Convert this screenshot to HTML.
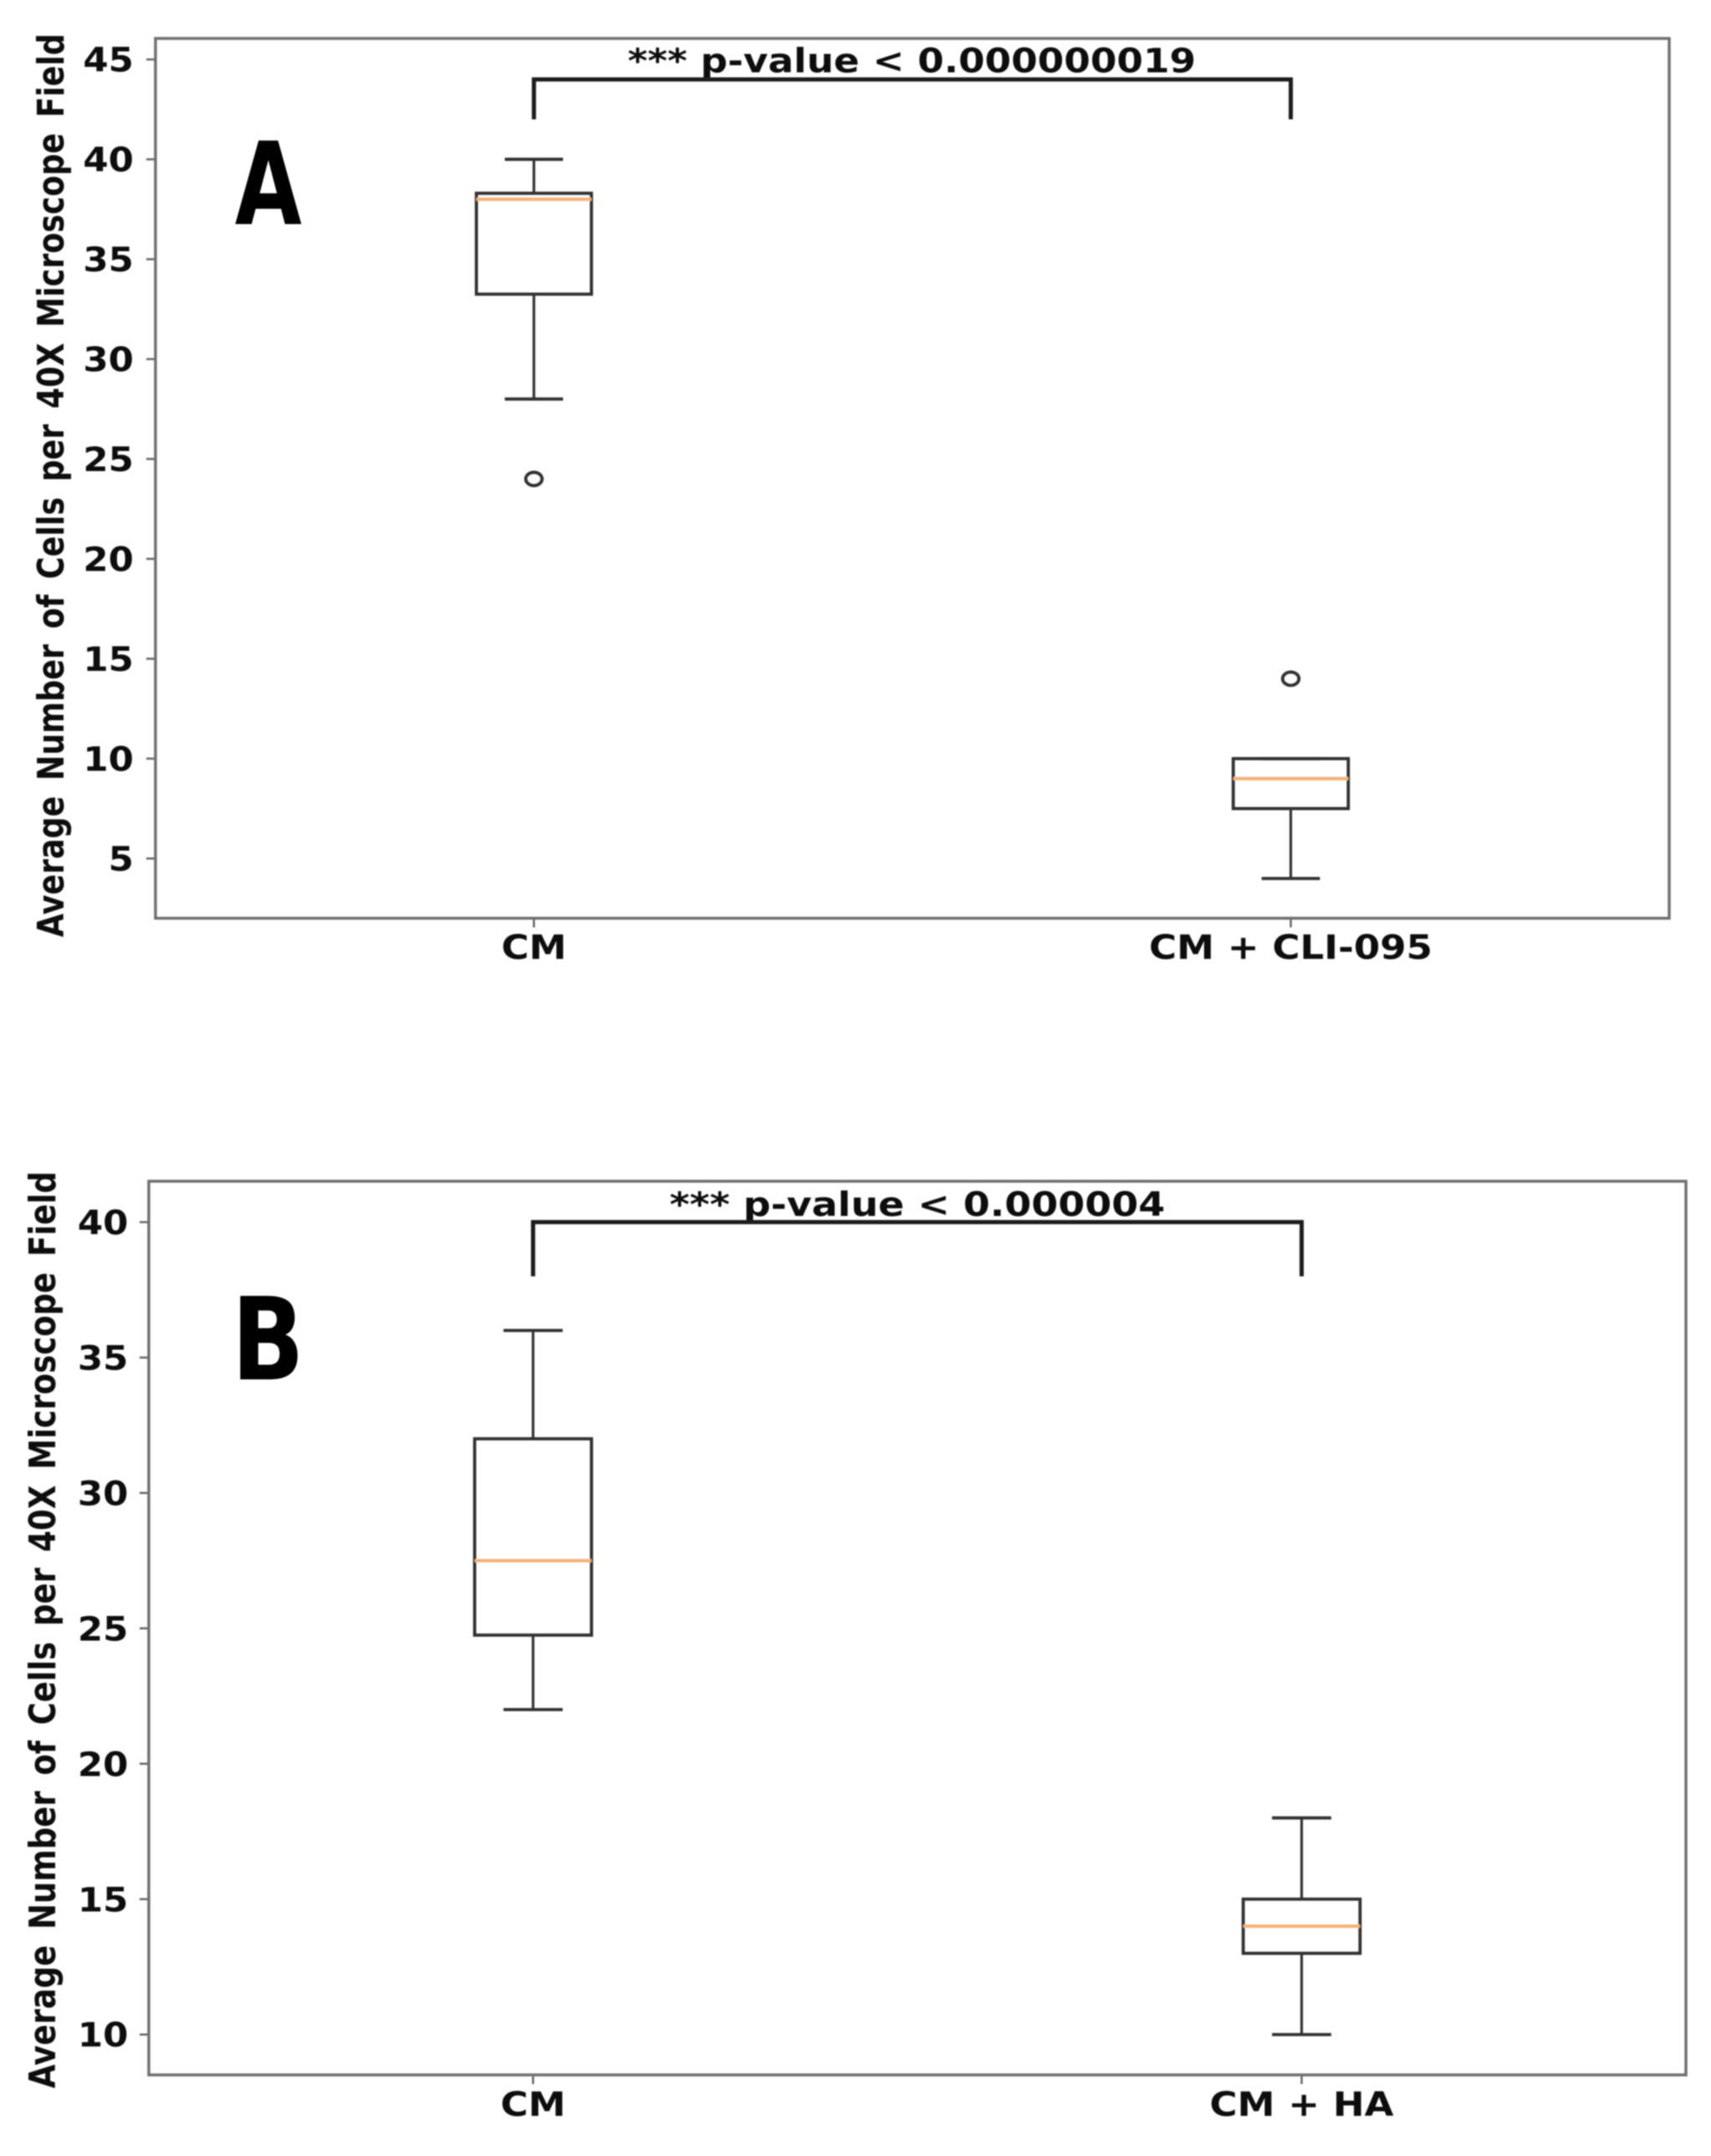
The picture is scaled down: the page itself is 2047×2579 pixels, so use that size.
<!DOCTYPE html>
<html lang="en">
<head>
<meta charset="utf-8">
<title>Cell counts per microscope field: box plots</title>
<style>
  html, body { margin: 0; padding: 0; background: #fff; }
  svg { display: block; }
  text { font-family: "DejaVu Sans", "Liberation Sans", sans-serif; font-weight: bold; fill: #111; }
</style>
</head>
<body>
<svg id="figure" xmlns="http://www.w3.org/2000/svg" width="2047" height="2579" viewBox="0 0 2047 2579">
  <defs>
    <filter id="soft" x="-2%" y="-2%" width="104%" height="104%"><feGaussianBlur stdDeviation="0.9"/></filter>
  </defs>
  <rect x="0" y="0" width="2047" height="2579" fill="#ffffff"/>
  <g id="panelA" filter="url(#soft)">
    <text x="281" y="268" font-size="137" textLength="80" lengthAdjust="spacingAndGlyphs" style="fill:#000">A</text>
    <text transform="translate(76,1121) rotate(-90)" font-size="44" word-spacing="7" textLength="1081" lengthAdjust="spacingAndGlyphs">Average Number of Cells per 40X Microscope Field</text>
    <text transform="translate(751,86.5) scale(1.135,1)" font-size="40">*** p-value &lt; 0.000000019</text>
  </g>
  <g id="panelB" filter="url(#soft)">
    <text x="277" y="1650" font-size="137" textLength="87" lengthAdjust="spacingAndGlyphs" style="fill:#000">B</text>
    <text transform="translate(66,2498) rotate(-90)" font-size="44" word-spacing="7" textLength="1097" lengthAdjust="spacingAndGlyphs">Average Number of Cells per 40X Microscope Field</text>
    <text transform="translate(801,1454.7) scale(1.15,1)" font-size="40">*** p-value &lt; 0.000004</text>
  </g>
</svg>
<script>
// Panel A values
const categoriesA = ["CM", "CM + CLI-095"];
const whiskerLowA = [28, 4];
const quartile1A = [33.25, 7.5];
const medianA = [38, 9];
const quartile3A = [38.3, 10];
const whiskerHighA = [40, 10];
const outliersA = [[24], [14]];
const tickValuesA = [5, 10, 15, 20, 25, 30, 35, 40, 45];
const tickLabelsA = ["5", "10", "15", "20", "25", "30", "35", "40", "45"];
const bracketA = [42, 44];

// Panel B values
const categoriesB = ["CM", "CM + HA"];
const whiskerLowB = [22, 10];
const quartile1B = [24.75, 13];
const medianB = [27.5, 14];
const quartile3B = [32, 15];
const whiskerHighB = [36, 18];
const outliersB = [[], []];
const tickValuesB = [10, 15, 20, 25, 30, 35, 40];
const tickLabelsB = ["10", "15", "20", "25", "30", "35", "40"];
const bracketB = [38, 40];

const SVG_NS = "http://www.w3.org/2000/svg";
const BOX_WIDTH = 0.152;
const CAP_WIDTH = 0.077;

function makeXScale(frame) {
  return function (position) {
    return frame.left + (position - 0.5) / 2 * (frame.right - frame.left);
  };
}
function makeYScale(frame, domainMin, domainMax) {
  return function (value) {
    return frame.bottom - (value - domainMin) / (domainMax - domainMin) * (frame.bottom - frame.top);
  };
}
function shape(parent, tag, attrs) {
  const el = document.createElementNS(SVG_NS, tag);
  Object.keys(attrs).forEach(function (key) { el.setAttribute(key, attrs[key]); });
  parent.appendChild(el);
  return el;
}
function line(parent, x1, y1, x2, y2, stroke, width) {
  return shape(parent, "line", { x1: x1, y1: y1, x2: x2, y2: y2, stroke: stroke, "stroke-width": width });
}

function drawPanel(root, prefix, frame, domain, d) {
  const x = makeXScale(frame);
  const y = makeYScale(frame, domain[0], domain[1]);
  const boxStroke = "#333333";

  // y ticks and labels
  d.tickValues.forEach(function (value, i) {
    const tick = line(root, frame.left - 11, y(value), frame.left, y(value), "#666666", 2.5);
    
    
    const label = shape(root, "text", {
      transform: "translate(" + frame.tickRight + "," + (y(value) + 14.5) + ") scale(1.09,1)",
      "text-anchor": "end",
      "font-size": 40
    });
    label.textContent = d.tickLabels[i];
    
    
  });

  // boxes, from the statistic arrays
  d.categories.forEach(function (category, i) {
    const pos = i + 1;
    const cx = x(pos);
    const group = shape(root, "g", {});
    
    

    const upper = line(group, cx, y(d.q3[i]), cx, y(d.high[i]), boxStroke, 3.2);
    
    
    const lower = line(group, cx, y(d.q1[i]), cx, y(d.low[i]), boxStroke, 3.2);
    
    
    const capHigh = line(group, x(pos - CAP_WIDTH / 2), y(d.high[i]), x(pos + CAP_WIDTH / 2), y(d.high[i]), boxStroke, 3.8);
    
    
    const capLow = line(group, x(pos - CAP_WIDTH / 2), y(d.low[i]), x(pos + CAP_WIDTH / 2), y(d.low[i]), boxStroke, 3.8);
    
    

    const box = shape(group, "rect", {
      x: x(pos - BOX_WIDTH / 2),
      y: y(d.q3[i]),
      width: x(pos + BOX_WIDTH / 2) - x(pos - BOX_WIDTH / 2),
      height: y(d.q1[i]) - y(d.q3[i]),
      fill: "none",
      stroke: boxStroke,
      "stroke-width": 3.8
    });
    
    

    const median = line(group, x(pos - BOX_WIDTH / 2), y(d.median[i]), x(pos + BOX_WIDTH / 2), y(d.median[i]), "#f6b077", 4);
    
    

    d.outliers[i].forEach(function (value) {
      const dot = shape(group, "ellipse", { cx: cx, cy: y(value), rx: 9.6, ry: 7.8, fill: "#fff", stroke: boxStroke, "stroke-width": 4.2 });
      
      
    });

    // x tick and label
    const xTick = line(root, cx, frame.bottom, cx, frame.bottom + 11, "#666666", 2.5);
    
    
    const xLabel = shape(root, "text", {
      transform: "translate(" + cx + "," + frame.labelBase + ") scale(1.13,1)",
      "text-anchor": "middle",
      "font-size": 40
    });
    xLabel.textContent = category;
    
    
  });

  // significance bracket
  const bracket = shape(root, "polyline", {
    points: [x(1), y(d.bracket[0]), x(1), y(d.bracket[1]), x(2), y(d.bracket[1]), x(2), y(d.bracket[0])].join(" "),
    fill: "none",
    stroke: "#1c1c1c",
    "stroke-width": 5,
    "stroke-linejoin": "miter"
  });
  
  

  // plot frame
  const border = shape(root, "rect", {
    x: frame.left,
    y: frame.top,
    width: frame.right - frame.left,
    height: frame.bottom - frame.top,
    fill: "none",
    stroke: "#707070",
    "stroke-width": 3.5
  });
  
  
}

drawPanel(
  document.getElementById("panelA"), "panel-a",
  { left: 186, right: 1997, top: 46, bottom: 1098.4, tickRight: 160, labelBase: 1147 },
  [2.01, 46.05],
  { categories: categoriesA, low: whiskerLowA, q1: quartile1A, median: medianA, q3: quartile3A, high: whiskerHighA, outliers: outliersA, tickValues: tickValuesA, tickLabels: tickLabelsA, bracket: bracketA }
);
drawPanel(
  document.getElementById("panelB"), "panel-b",
  { left: 178, right: 2017, top: 1413, bottom: 2482, tickRight: 153.5, labelBase: 2531 },
  [8.51, 41.51],
  { categories: categoriesB, low: whiskerLowB, q1: quartile1B, median: medianB, q3: quartile3B, high: whiskerHighB, outliers: outliersB, tickValues: tickValuesB, tickLabels: tickLabelsB, bracket: bracketB }
);
</script>
</body>
</html>
